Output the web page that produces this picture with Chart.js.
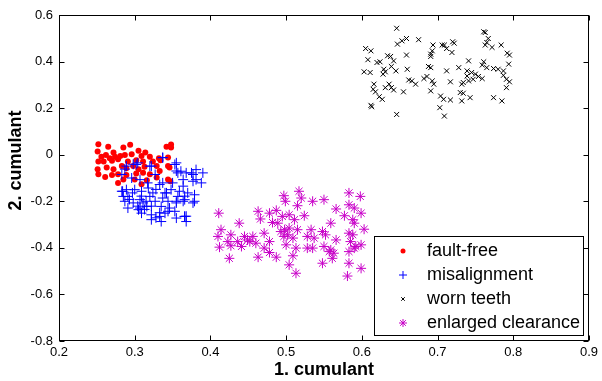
<!DOCTYPE html>
<html><head><meta charset="utf-8">
<script src="https://cdn.jsdelivr.net/npm/chart.js@4/dist/chart.umd.min.js"></script>
<style>html,body{margin:0;padding:0;background:#fff;}#wrap{width:602px;height:381px;}</style>
</head><body><div id="wrap"><canvas id="c" width="602" height="381"></canvas></div>
<script>
const xTicks = [0.2,0.3,0.4,0.5,0.6,0.7,0.8,0.9];
const yTicks = [-0.8,-0.6,-0.4,-0.2,0,0.2,0.4,0.6];
const seriesNames = ['fault-free','misalignment','worn teeth','enlarged clearance'];
const xTitle = '1. cumulant';
const yTitle = '2. cumulant';

const faultFreeX = [0.252,0.251,0.265,0.272,0.285,0.294,0.305,0.314,0.342,0.348,0.256,0.262,0.267,0.274,0.281,0.287,0.296,0.309,0.320,0.332,0.252,0.259,0.270,0.278,0.291,0.302,0.311,0.324,0.334,0.344,0.251,0.263,0.272,0.283,0.289,0.298,0.305,0.313,0.329,0.344,0.252,0.261,0.270,0.278,0.289,0.302,0.311,0.320,0.333,0.346,0.285,0.300,0.316,0.329,0.344,0.278,0.309,0.347,0.348];
const faultFreeY = [0.045,0.014,0.034,0.009,0.031,0.043,0.017,0.010,0.034,0.031,-0.009,-0.001,-0.015,-0.009,-0.005,-0.001,0.002,-0.005,-0.009,-0.015,-0.029,-0.029,-0.026,-0.019,-0.029,-0.024,-0.029,-0.029,-0.024,-0.012,-0.062,-0.055,-0.062,-0.048,-0.058,-0.048,-0.062,-0.052,-0.048,-0.048,-0.084,-0.096,-0.087,-0.084,-0.087,-0.081,-0.077,-0.084,-0.070,-0.055,-0.106,-0.106,-0.110,-0.098,-0.106,-0.122,-0.127,-0.114,0.044];

const misalignX = [0.302,0.322,0.327,0.283,0.296,0.307,0.337,0.353,0.357,0.368,0.377,0.381,0.377,0.364,0.283,0.289,0.291,0.300,0.309,0.318,0.324,0.333,0.340,0.348,0.359,0.370,0.379,0.366,0.287,0.298,0.307,0.311,0.316,0.327,0.337,0.344,0.355,0.364,0.377,0.305,0.309,0.322,0.333,0.340,0.353,0.355,0.366,0.368,0.335,0.322,0.307,0.357,0.320,0.335,0.346,0.291,0.285,0.388,0.390,0.287,0.298,0.337,0.355,0.366,
  0.289,0.304,0.320,0.337,0.355,0.361,0.375,0.381,0.284,0.297,0.309,0.315,0.322,0.333,0.344,0.355,0.366,0.379,0.368,0.328,0.313,0.293,0.304,0.342,0.350,0.364,0.328,0.317];
const misalignY = [-0.042,-0.049,-0.085,-0.085,-0.100,-0.107,-0.121,-0.042,-0.078,-0.078,-0.085,-0.064,-0.114,-0.107,-0.157,-0.150,-0.179,-0.150,-0.157,-0.143,-0.164,-0.128,-0.164,-0.150,-0.157,-0.164,-0.172,-0.193,-0.200,-0.207,-0.193,-0.207,-0.222,-0.200,-0.186,-0.200,-0.207,-0.200,-0.207,-0.236,-0.251,-0.258,-0.265,-0.251,-0.243,-0.272,-0.265,-0.287,-0.287,-0.279,-0.229,-0.179,-0.179,-0.222,-0.229,-0.229,-0.179,-0.121,-0.078,-0.062,-0.041,-0.012,-0.070,-0.265,
  -0.049,-0.035,-0.049,-0.013,-0.035,-0.071,-0.078,-0.107,-0.157,-0.164,-0.178,-0.200,-0.221,-0.249,-0.243,-0.200,-0.178,-0.200,-0.264,-0.271,-0.235,-0.192,-0.221,-0.164,-0.121,-0.135,-0.149,-0.121];

const wornX = [0.646,0.605,0.612,0.647,0.653,0.659,0.675,0.694,0.693,0.691,0.691,0.706,0.709,0.720,0.722,0.712,0.719,0.761,0.763,0.767,0.765,0.763,0.772,0.784,0.792,0.795,0.794,0.608,0.620,0.624,0.634,0.638,0.642,0.659,0.741,0.761,0.759,0.774,0.780,0.787,0.787,0.791,0.795,0.791,0.603,0.611,0.629,0.628,0.631,0.639,0.645,0.660,0.688,0.691,0.712,0.728,0.739,0.745,0.750,0.754,0.759,0.747,0.741,0.739,0.734,0.732,0.765,0.616,0.615,0.618,0.623,0.627,0.631,0.636,0.639,0.642,0.655,0.662,0.666,0.671,0.682,0.686,0.693,0.695,0.691,0.717,0.730,0.734,0.732,0.743,0.704,0.708,0.717,0.774,0.785,0.612,0.613,0.646,0.703,0.709];
const wornY = [0.543,0.456,0.446,0.475,0.489,0.499,0.494,0.471,0.446,0.432,0.422,0.471,0.471,0.485,0.479,0.456,0.439,0.528,0.525,0.499,0.482,0.471,0.461,0.471,0.436,0.428,0.389,0.408,0.396,0.399,0.425,0.422,0.403,0.428,0.403,0.399,0.385,0.370,0.367,0.360,0.341,0.324,0.313,0.288,0.356,0.353,0.367,0.346,0.356,0.379,0.360,0.367,0.379,0.374,0.360,0.374,0.360,0.353,0.346,0.336,0.327,0.324,0.317,0.338,0.310,0.303,0.374,0.303,0.281,0.270,0.249,0.238,0.288,0.303,0.288,0.278,0.270,0.321,0.317,0.303,0.327,0.336,0.317,0.303,0.274,0.313,0.267,0.264,0.231,0.245,0.252,0.238,0.235,0.245,0.231,0.212,0.206,0.173,0.202,0.166];

const clearanceX = [0.411,0.438,0.463,0.466,0.478,0.487,0.482,0.489,0.497,0.499,0.517,0.520,0.515,0.535,0.550,0.495,0.504,0.511,0.524,0.566,0.577,0.583,0.598,0.583,0.590,0.599,0.588,0.590,0.603,0.414,0.410,0.427,0.412,0.423,0.427,0.441,0.449,0.456,0.460,0.471,0.478,0.471,0.478,0.487,0.425,0.463,0.493,0.497,0.502,0.509,0.513,0.509,0.504,0.513,0.500,0.528,0.533,0.537,0.528,0.535,0.550,0.559,0.563,0.561,0.548,0.552,0.559,0.548,0.566,0.583,0.585,0.583,0.592,0.599,0.583,0.599,0.581,0.588,0.515,0.445,0.452,0.436,0.498,0.504,0.557,0.590];
const clearanceY = [-0.251,-0.294,-0.243,-0.276,-0.251,-0.239,-0.291,-0.294,-0.176,-0.200,-0.157,-0.186,-0.219,-0.200,-0.193,-0.265,-0.258,-0.279,-0.262,-0.233,-0.262,-0.164,-0.179,-0.215,-0.229,-0.251,-0.279,-0.294,-0.320,-0.322,-0.351,-0.344,-0.397,-0.373,-0.391,-0.394,-0.366,-0.351,-0.380,-0.337,-0.373,-0.401,-0.420,-0.440,-0.445,-0.440,-0.330,-0.351,-0.344,-0.358,-0.401,-0.434,-0.473,-0.509,-0.387,-0.351,-0.322,-0.358,-0.401,-0.401,-0.394,-0.409,-0.423,-0.445,-0.466,-0.344,-0.294,-0.330,-0.366,-0.337,-0.373,-0.416,-0.394,-0.387,-0.466,-0.488,-0.521,-0.344,-0.322,-0.351,-0.373,-0.373,-0.322,-0.315,-0.416,-0.401];

const colors = ['#ff0000','#0000ff','#000000','#c800c8'];
function pts(xs, ys){ return xs.map((x,i)=>({x:x, y:ys[i]})); }

const FONT = '"Liberation Sans", Arial, sans-serif';

function drawMarker(ctx, style, x, y, r, color){
  ctx.save();
  ctx.strokeStyle = color; ctx.fillStyle = color; ctx.lineWidth = 1;
  ctx.beginPath();
  if (style === 'circle') { ctx.arc(x, y, r, 0, Math.PI*2); ctx.fill(); }
  else {
    if (style === 'cross' || style === 'star') { ctx.moveTo(x-r,y); ctx.lineTo(x+r,y); ctx.moveTo(x,y-r); ctx.lineTo(x,y+r); }
    if (style === 'crossRot' || style === 'star') { const d = r*0.7071; ctx.moveTo(x-d,y-d); ctx.lineTo(x+d,y+d); ctx.moveTo(x-d,y+d); ctx.lineTo(x+d,y-d); }
    ctx.stroke();
  }
  ctx.restore();
}

const boxPlugin = {
  id: 'matlabBox',
  afterDraw(chart){
    const {ctx, chartArea:a, scales} = chart;
    const L = Math.round(a.left)+0.5, R = Math.round(a.right)-0.5, T = Math.round(a.top)+0.5, B = Math.round(a.bottom)-0.5;
    ctx.save();
    ctx.strokeStyle = '#000'; ctx.lineWidth = 1;
    ctx.beginPath();
    const tl = 5;
    scales.x.ticks.forEach(t => {
      const px = Math.round(scales.x.getPixelForValue(t.value))+0.5;
      ctx.moveTo(px, B); ctx.lineTo(px, B - tl);
      ctx.moveTo(px, T); ctx.lineTo(px, T + tl);
    });
    scales.y.ticks.forEach(t => {
      const py = Math.round(scales.y.getPixelForValue(t.value))+0.5;
      ctx.moveTo(L, py); ctx.lineTo(L + tl, py);
      ctx.moveTo(R, py); ctx.lineTo(R - tl, py);
    });
    ctx.stroke();
    ctx.strokeRect(L, T, R-L, B-T);
    // legend
    const lx = 374.5, ly = 236.5, lw = 209, lh = 99;
    ctx.fillStyle = '#fff';
    ctx.fillRect(lx, ly, lw, lh);
    ctx.strokeRect(lx, ly, lw, lh);
    ctx.font = '18px ' + FONT;
    ctx.textBaseline = 'middle';
    ctx.textAlign = 'left';
    const styles = ['circle','cross','crossRot','star'];
    const radii = [2.5,4,2.5,4];
    chart.data.datasets.forEach((ds, i) => {
      const cy = 251 + i*24;
      drawMarker(ctx, styles[i], 403, cy, radii[i], ds.borderColor);
      ctx.fillStyle = '#000';
      ctx.fillText(ds.label, 427, cy);
    });
    ctx.restore();
  }
};

const datasets = [
  {label: seriesNames[0], data: pts(faultFreeX, faultFreeY), pointStyle:'circle', pointRadius:3, backgroundColor: colors[0], borderColor: colors[0], borderWidth:0, order:4},
  {label: seriesNames[1], data: pts(misalignX, misalignY), pointStyle:'cross', pointRadius:5, backgroundColor: colors[1], borderColor: colors[1], borderWidth:1, order:3},
  {label: seriesNames[2], data: pts(wornX, wornY), pointStyle:'crossRot', pointRadius:3.5, backgroundColor: colors[2], borderColor: colors[2], borderWidth:1, order:2},
  {label: seriesNames[3], data: pts(clearanceX, clearanceY), pointStyle:'star', pointRadius:5, backgroundColor: colors[3], borderColor: colors[3], borderWidth:1, order:1}
];

new Chart(document.getElementById('c'), {
  type: 'scatter',
  data: { datasets },
  options: {
    responsive: false, animation: false, devicePixelRatio: 1,
    layout: { padding: { left: 0, right: 12, top: 15, bottom: 0 } },
    plugins: { legend: { display: false }, tooltip: { enabled: false } },
    scales: {
      x: {
        type: 'linear', min: xTicks[0], max: xTicks[xTicks.length-1],
        afterBuildTicks: s => { s.ticks = xTicks.map(v => ({value: v})); },
        afterFit: s => { s.height = 40; },
        grid: { display: false, drawTicks: false }, border: { display: false },
        ticks: { color: '#000', padding: 4, font: { family: FONT, size: 13 }, maxRotation: 0, autoSkip: false },
        title: { display: true, text: xTitle, color: '#000', font: { family: FONT, size: 18, weight: 'bold' }, padding: { top: 0, bottom: 0 } }
      },
      y: {
        type: 'linear', min: yTicks[0], max: yTicks[yTicks.length-1],
        afterBuildTicks: s => { s.ticks = yTicks.map(v => ({value: v})); },
        afterFit: s => { s.width = 59; },
        grid: { display: false, drawTicks: false }, border: { display: false },
        ticks: { color: '#000', padding: 6, font: { family: FONT, size: 13 }, autoSkip: false,
                 callback: v => String(Math.round(v*10)/10) },
        title: { display: true, text: '       ' + yTitle, color: '#000', font: { family: FONT, size: 18, weight: 'bold' }, padding: { top: 5, bottom: 0 } }
      }
    }
  },
  plugins: [boxPlugin]
});
</script>
</body></html>
